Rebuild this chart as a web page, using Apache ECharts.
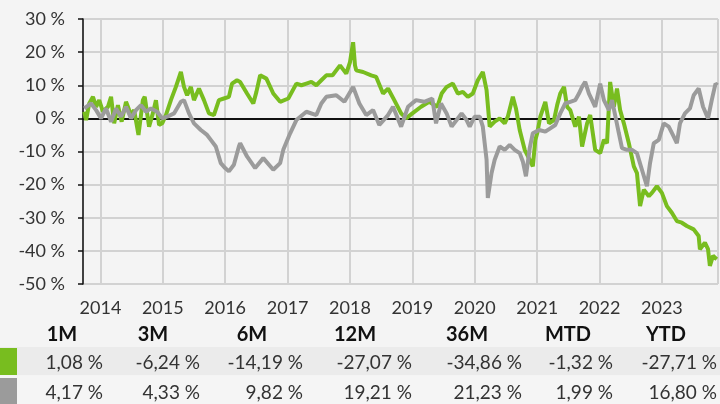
<!DOCTYPE html>
<html>
<head>
<meta charset="utf-8">
<script src="https://cdn.jsdelivr.net/npm/echarts@6/dist/echarts.min.js"></script>
<style>
  html, body { margin: 0; padding: 0; background: #f4f4f4; }
  #wrap { position: relative; width: 720px; height: 404px; overflow: hidden; font-family: Lato, "Noto Sans", sans-serif; color: #333; }
  #chart { position: absolute; left: 0; top: 0; width: 720px; height: 404px; }
  .row { position: absolute; left: 0; width: 720px; }
  .swatch { position: absolute; left: 0; width: 17px; }
  .cell { position: absolute; white-space: nowrap; font-size: 19px; line-height: 23px; }
  .head { font-weight: 700; font-size: 20px; line-height: 24px; color: #111; transform: translateX(-50%); }
  .val { transform: translateX(-100%); }
</style>
</head>
<body>
<div id="wrap">
  <div id="chart"></div>
  <div id="table"></div>
</div>
<script>
// Performance since inception, in percent; dates given as decimal years
const fundYears = [
  2013.74, 2013.77, 2013.82, 2013.88, 2013.93, 2013.98, 2014.04, 2014.12, 2014.17, 2014.22,
  2014.28, 2014.34, 2014.41, 2014.49, 2014.54, 2014.61, 2014.68, 2014.71, 2014.78, 2014.84,
  2014.89, 2014.94, 2014.99, 2015.05, 2015.13, 2015.21, 2015.29, 2015.34, 2015.39, 2015.45,
  2015.50, 2015.58, 2015.61, 2015.66, 2015.74, 2015.82, 2015.90, 2015.98, 2016.06, 2016.11,
  2016.19, 2016.24, 2016.35, 2016.45, 2016.50, 2016.56, 2016.66, 2016.77, 2016.88, 2017.01,
  2017.14, 2017.22, 2017.30, 2017.38, 2017.46, 2017.54, 2017.62, 2017.72, 2017.84, 2017.94,
  2018.00, 2018.05, 2018.08, 2018.10, 2018.21, 2018.34, 2018.42, 2018.53, 2018.61, 2018.71,
  2018.82, 2018.90, 2019.00, 2019.14, 2019.27, 2019.40, 2019.47, 2019.55, 2019.65, 2019.73,
  2019.81, 2019.89, 2019.97, 2020.05, 2020.13, 2020.19, 2020.24, 2020.32, 2020.40, 2020.48,
  2020.53, 2020.61, 2020.66, 2020.72, 2020.80, 2020.88, 2020.93, 2020.97, 2021.00, 2021.05,
  2021.13, 2021.19, 2021.27, 2021.32, 2021.37, 2021.43, 2021.48, 2021.53, 2021.61, 2021.67,
  2021.72, 2021.80, 2021.85, 2021.93, 2022.01, 2022.07, 2022.12, 2022.17, 2022.23, 2022.28,
  2022.33, 2022.39, 2022.42, 2022.47, 2022.55, 2022.60, 2022.65, 2022.71, 2022.79, 2022.84,
  2022.92, 2023.00, 2023.08, 2023.16, 2023.24, 2023.32, 2023.40, 2023.51, 2023.59, 2023.61,
  2023.69, 2023.74, 2023.77, 2023.82, 2023.88
];
const fundValues = [
  2, -0.5, 4.5, 6.5, 3.5, 5.5, 2, 3.5, 6.5, -1.5,
  4, -1, 5, 1, 2.5, -5, 5.5, 6.5, -2.5, 1.5,
  5.5, -2, -1.5, 1, 5.5, 9.5, 14, 9.5, 7, 9.5,
  5.5, 9, 8.5, 5.5, 1.5, 1, 5.5, 6, 6.5, 10.5,
  11.5, 11, 7.5, 4.5, 8, 13, 12, 7.5, 5, 6,
  10.5, 10, 10.5, 11, 10, 11.5, 13, 13, 16, 13.5,
  17, 23, 16, 14.5, 14, 13, 12.5, 7.5, 9, 5.5,
  1.5, 0, 1.5, 3.5, 5, 3.5, 7.5, 9.5, 10.5, 7.5,
  8, 6.5, 7.5, 11.5, 14, 8.5, -2.5, -1, 0, -1.5,
  0.5, 6.5, 3, -3.5, -9.5, -12.5, -14.5, -6.5, -4.5, 0.5,
  5, -1.5, -0.5, 4, 7.5, 9.5, 3.5, 2.5, -2.5, 0.5,
  -8.5, -1.5, 1, -9.5, -10.5, -6.5, -7.5, 11, 3.5, 9,
  2.5, -1.5, -1.5, -7.5, -14.5, -16.5, -26.5, -21.5, -23.5, -22.5,
  -20.5, -22.5, -26.5, -28.5, -31, -31.5, -32.5, -33.5, -35.5, -39.5,
  -37.5, -39.5, -44.5, -41.5, -42.5
];
const benchYears = [
  2013.74, 2013.77, 2013.85, 2013.93, 2014.01, 2014.09, 2014.17, 2014.25, 2014.33, 2014.41,
  2014.49, 2014.57, 2014.65, 2014.73, 2014.81, 2014.91, 2014.99, 2015.07, 2015.18, 2015.29,
  2015.34, 2015.42, 2015.50, 2015.61, 2015.71, 2015.77, 2015.85, 2015.93, 2016.00, 2016.06,
  2016.14, 2016.22, 2016.24, 2016.35, 2016.48, 2016.61, 2016.77, 2016.88, 2016.93, 2017.04,
  2017.14, 2017.30, 2017.46, 2017.54, 2017.62, 2017.78, 2017.91, 2018.05, 2018.15, 2018.26,
  2018.37, 2018.47, 2018.61, 2018.69, 2018.82, 2018.93, 2019.06, 2019.19, 2019.32, 2019.38,
  2019.46, 2019.55, 2019.63, 2019.71, 2019.79, 2019.87, 2019.92, 2020.00, 2020.08, 2020.13,
  2020.19, 2020.21, 2020.27, 2020.32, 2020.40, 2020.48, 2020.56, 2020.64, 2020.72, 2020.77,
  2020.82, 2020.88, 2020.93, 2021.03, 2021.13, 2021.21, 2021.29, 2021.37, 2021.45, 2021.53,
  2021.61, 2021.67, 2021.72, 2021.77, 2021.83, 2021.88, 2021.93, 2022.01, 2022.07, 2022.15,
  2022.20, 2022.25, 2022.31, 2022.36, 2022.44, 2022.52, 2022.60, 2022.68, 2022.76, 2022.81,
  2022.87, 2022.95, 2023.03, 2023.11, 2023.19, 2023.24, 2023.29, 2023.37, 2023.45, 2023.51,
  2023.59, 2023.66, 2023.74, 2023.80, 2023.86, 2023.89
];
const benchValues = [
  3, 3, 4.5, 2.5, 0, 3, -1, 3, 0.5, 3.5,
  0, 2.5, 4, 2, 3, 2, 0, 0.5, 1.5, 5,
  5.5, 1.5, -1.5, -3.5, -5, -6.5, -8.5, -13.5, -15, -16,
  -14, -8.5, -7.5, -11.5, -15, -12, -15.5, -13.5, -9.5, -4.5,
  -0.5, 2, 1, 4.5, 6.5, 7, 5, 9.5, 4.5, 1,
  2.5, -2, 1, 3.5, -2.5, 3.5, 5.5, 5, 6, -1.5,
  4.5, 1.5, -2.5, -0.5, 1.5, -0.5, -2.5, 0.5, 0.5, -2.5,
  -12.5, -24, -16.5, -12.5, -8.5, -9.5, -8, -9.5, -10.5, -13,
  -17.5, -9, -4.5, -3.5, -4, -3, -2, 1.5, 4.5, 5,
  5.5, 7.5, 9.5, 11, 7.5, 5.5, 3.5, 10.5, 5.5, 2.5,
  5.5, 1, -4.5, -9, -9.5, -9.5, -10.5, -15.5, -20.5, -13.5,
  -7.5, -6.5, -1.5, -2.5, -5.5, -7.5, -1.5, 1.5, 3, 7,
  9, 3.5, 0, 5.5, 10.5, 10
];

// Period returns shown in the table below the chart
const periods = ['1M', '3M', '6M', '12M', '36M', 'MTD', 'YTD'];
const fundReturns = [1.08, -6.24, -14.19, -27.07, -34.86, -1.32, -27.71];
const benchReturns = [4.17, 4.33, 9.82, 19.21, 21.23, 1.99, 16.80];

const FUND_COLOR = '#78bd1f';
const BENCH_COLOR = '#9b9b9b';
const FONT = 'Lato, "Noto Sans", sans-serif';

// decimal year -> UTC timestamp
function toTime(y) {
  const yr = Math.floor(y);
  const a = Date.UTC(yr, 0, 1), b = Date.UTC(yr + 1, 0, 1);
  return a + (y - yr) * (b - a);
}
const YEAR_MS = 365.25 * 864e5;

const chart = echarts.init(document.getElementById('chart'), null, { renderer: 'canvas' });
chart.setOption({
  backgroundColor: '#f4f4f4',
  animation: false,
  grid: { left: 83, right: 2, top: 19, bottom: 120 },
  xAxis: {
    type: 'time',
    min: toTime(2013.72),
    max: toTime(2023.9),
    minInterval: YEAR_MS,
    maxInterval: YEAR_MS,
    axisLine: { lineStyle: { color: '#111', width: 2 } },
    axisTick: { show: false },
    splitLine: { show: true, lineStyle: { color: '#d2d2d2', width: 2 } },
    axisLabel: {
      formatter: (v) => String(new Date(v).getUTCFullYear()),
      color: '#333', fontSize: 18, fontFamily: FONT, margin: 15,
      showMinLabel: false, showMaxLabel: false
    }
  },
  yAxis: {
    type: 'value',
    min: -50, max: 30, interval: 10,
    axisLine: { show: true, lineStyle: { color: '#111', width: 1.5 } },
    axisTick: { show: true, length: 5, lineStyle: { color: '#111', width: 1.5 } },
    splitLine: { lineStyle: { color: '#d2d2d2', width: 2 } },
    axisLabel: { formatter: '{value} %', color: '#333', fontSize: 18, fontFamily: FONT, margin: 18 }
  },
  series: [
    {
      name: 'Fonds', type: 'line', showSymbol: false, silent: true,
      data: fundYears.map((y, i) => [toTime(y), fundValues[i]]),
      lineStyle: { color: FUND_COLOR, width: 4 }, itemStyle: { color: FUND_COLOR }
    },
    {
      name: 'Benchmark', type: 'line', showSymbol: false, silent: true,
      data: benchYears.map((y, i) => [toTime(y), benchValues[i]]),
      lineStyle: { color: BENCH_COLOR, width: 4 }, itemStyle: { color: BENCH_COLOR }
    }
  ]
});

// Returns table
const fmt = (v) => v.toFixed(2).replace('.', ',') + ' %';
const headCenters = [62, 153, 252, 355, 467, 568, 666];
const valueRights = [103, 200, 303, 412, 522, 613, 717];
const table = document.getElementById('table');
let html = '';
periods.forEach((p, i) => {
  html += `<div class="cell head" style="left:${headCenters[i]}px;top:321px">${p}</div>`;
});
html += `<div class="row" style="top:347px;height:28px;background:#ebebeb"></div>`;
html += `<div class="row" style="top:376px;height:28px;background:#f5f5f5"></div>`;
html += `<div class="swatch" style="top:348px;height:27px;background:${FUND_COLOR}"></div>`;
html += `<div class="swatch" style="top:378px;height:26px;background:${BENCH_COLOR}"></div>`;
fundReturns.forEach((v, i) => {
  html += `<div class="cell val" style="left:${valueRights[i]}px;top:350px">${fmt(v)}</div>`;
});
benchReturns.forEach((v, i) => {
  html += `<div class="cell val" style="left:${valueRights[i]}px;top:380px">${fmt(v)}</div>`;
});
table.innerHTML = html;
</script>
</body>
</html>
